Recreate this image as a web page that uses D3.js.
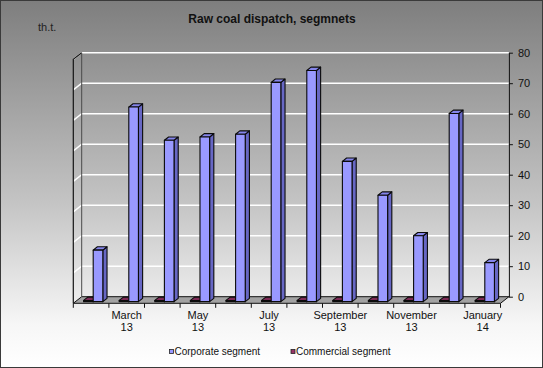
<!DOCTYPE html>
<html>
<head>
<meta charset="utf-8">
<script src="https://cdn.jsdelivr.net/npm/d3@7"></script>
<style>
  html, body { margin: 0; padding: 0; background: #fff; }
  svg { display: block; font-family: "Liberation Sans", Arial, sans-serif; }
</style>
</head>
<body>
<div id="chart"></div>
<script>
// chart data
const months = ["February", "March", "April", "May", "June", "July", "August",
                "September", "October", "November", "December", "January"];
const years = ["13", "13", "13", "13", "13", "13", "13", "13", "13", "13", "13", "14"];
const corporate = [16.9, 63.8, 52.9, 54.0, 54.9, 71.9, 75.8, 46.0, 34.9, 21.6, 61.7, 12.8];
const commercial = [0.4, 0.4, 0.4, 0.4, 0.4, 0.4, 0.4, 0.4, 0.4, 0.4, 0.4, 0.4];
const seriesNames = ["Corporate segment", "Commercial segment"];
const yTicks = [0, 10, 20, 30, 40, 50, 60, 70, 80];

const width = 543, height = 368;
// depth of the 3d box (front -> back)
const DX = 8.4, DY = 6.6;
const barZ = [0.25, 0.75];

const colors = {
    "Corporate segment": {front: "#9999ff", side: "#6767c4", top: "#8585ea"},
    "Commercial segment": {front: "#993366", side: "#6a2246", top: "#7d2a55"}
};

const svg = d3.select("#chart").append("svg")
    .attr("width", width)
    .attr("height", height);

// background gradient
const grad = svg.append("defs").append("linearGradient")
    .attr("id", "bg").attr("x1", 0).attr("y1", 0).attr("x2", 0).attr("y2", 1);
grad.append("stop").attr("offset", "0%").attr("stop-color", "#7e7e7e");
grad.append("stop").attr("offset", "55%").attr("stop-color", "#c4c4c4");
grad.append("stop").attr("offset", "88%").attr("stop-color", "#f6f6f6");
grad.append("stop").attr("offset", "100%").attr("stop-color", "#ffffff");

svg.append("rect")
    .attr("x", 0.5).attr("y", 0.5)
    .attr("width", width - 1).attr("height", height - 1)
    .attr("fill", "url(#bg)")
    .attr("stroke", "#3a3a3a");

// scales
const x = d3.scaleBand().domain(d3.range(months.length)).range([73.3, 500.5]);
const xs = d3.scaleBand().domain(["Commercial segment", "Corporate segment"])
    .range([0, x.bandwidth()]).paddingInner(0).paddingOuter(0.85);
const y = d3.scaleLinear().domain([0, 80]).range([296.7, 52.7]);

// project (px on front edge, value, depth z in 0..1) to screen
const P = (px, v, z) => [px + z * DX, y(v) + (1 - z) * DY];
const poly = pts => pts.map(p => p.join(",")).join(" ");

const x0 = x.range()[0], x1 = x.range()[1];
const plot = svg.append("g").attr("class", "plotG");

// floor
plot.append("polygon")
    .attr("points", poly([P(x0, 0, 0), P(x1, 0, 0), P(x1, 0, 1), P(x0, 0, 1)]))
    .attr("fill", "#a2a2a2")
    .attr("stroke", "#111")
    .attr("stroke-width", 1);

// gridlines on back wall and left wall
plot.selectAll(".grid")
    .data(yTicks.filter(d => d > 0))
    .join("polyline")
    .attr("class", "grid")
    .attr("points", d => poly([P(x0, d, 0), P(x0, d, 1), P(x1, d, 1)]))
    .attr("fill", "none")
    .attr("stroke", "#ffffff")
    .attr("stroke-width", 1.5);

// left wall edges
plot.append("polyline")
    .attr("points", poly([P(x0, 0, 0), P(x0, 80, 0), P(x0, 80, 1)]))
    .attr("fill", "none")
    .attr("stroke", "#151515")
    .attr("stroke-width", 1.2);
plot.append("line")
    .attr("x1", P(x0, 0, 1)[0]).attr("y1", P(x0, 0, 1)[1])
    .attr("x2", P(x0, 80, 1)[0]).attr("y2", P(x0, 80, 1)[1])
    .attr("stroke", "#4a4a4a")
    .attr("stroke-width", 1);

// value axis on the right (back plane)
const yAxisG = svg.append("g")
    .attr("class", "yAxisG")
    .attr("transform", "translate(" + P(x1, 0, 1)[0] + ",0)")
    .call(d3.axisRight(y).tickValues(yTicks).tickSize(4).tickSizeOuter(0).tickPadding(5));
yAxisG.select(".domain").attr("stroke", "#111");
yAxisG.selectAll(".tick line").attr("stroke", "#111");
yAxisG.selectAll(".tick text")
    .attr("font-family", "Liberation Sans, Arial, sans-serif")
    .attr("font-size", 11)
    .attr("fill", "#111");

// category ticks along the front edge of the floor
const xAxisG = svg.append("g").attr("class", "xAxisG");
xAxisG.selectAll(".xtick")
    .data(d3.range(months.length + 1))
    .join("line")
    .attr("class", "xtick")
    .attr("x1", i => i < months.length ? x(i) : x1)
    .attr("x2", i => i < months.length ? x(i) : x1)
    .attr("y1", P(x0, 0, 0)[1])
    .attr("y2", P(x0, 0, 0)[1] + 4.5)
    .attr("stroke", "#111");

const labels = xAxisG.selectAll(".xlabel")
    .data(d3.range(months.length).filter(i => i % 2 === 1))
    .join("text")
    .attr("class", "xlabel")
    .attr("text-anchor", "middle")
    .attr("font-size", 11)
    .attr("fill", "#111");
labels.append("tspan")
    .attr("x", i => x(i) + x.bandwidth() / 2)
    .attr("y", 319)
    .text(i => months[i]);
labels.append("tspan")
    .attr("x", i => x(i) + x.bandwidth() / 2)
    .attr("y", 331)
    .text(i => years[i]);

// bars (drawn left to right so the right bar covers the neighbour's side)
const barData = [];
months.forEach((m, i) => {
    barData.push({i: i, series: "Commercial segment", value: commercial[i]});
    barData.push({i: i, series: "Corporate segment", value: corporate[i]});
});

const barG = plot.selectAll(".barG")
    .data(barData)
    .join("g")
    .attr("class", "barG");

barG.each(function (d) {
    const g = d3.select(this);
    const bx0 = x(d.i) + xs(d.series);
    const bx1 = bx0 + xs.bandwidth();
    const [z0, z1] = barZ;
    const c = colors[d.series];
    g.append("polygon")
        .attr("points", poly([P(bx1, 0, z0), P(bx1, 0, z1), P(bx1, d.value, z1), P(bx1, d.value, z0)]))
        .attr("fill", c.side);
    g.append("polygon")
        .attr("points", poly([P(bx0, d.value, z0), P(bx1, d.value, z0), P(bx1, d.value, z1), P(bx0, d.value, z1)]))
        .attr("fill", c.top);
    g.append("polygon")
        .attr("points", poly([P(bx0, 0, z0), P(bx1, 0, z0), P(bx1, d.value, z0), P(bx0, d.value, z0)]))
        .attr("fill", c.front);
    g.selectAll("polygon")
        .attr("stroke", "#0a0a0a")
        .attr("stroke-width", 1.1)
        .attr("stroke-linejoin", "round");
});

// titles
svg.append("text")
    .attr("x", 272).attr("y", 23)
    .attr("text-anchor", "middle")
    .attr("font-size", 12)
    .attr("font-weight", "bold")
    .attr("fill", "#111")
    .text("Raw coal dispatch, segmnets");

svg.append("text")
    .attr("x", 38).attr("y", 31)
    .attr("font-size", 11)
    .attr("fill", "#222")
    .text("th.t.");

// legend
const legendX = [169, 290.5];
const legendG = svg.selectAll(".legendG")
    .data(seriesNames)
    .join("g")
    .attr("class", "legendG")
    .attr("transform", (d, i) => "translate(" + legendX[i] + ",349)");
legendG.append("rect")
    .attr("x", 0.5).attr("y", 0.5)
    .attr("width", 4).attr("height", 4)
    .attr("fill", d => colors[d].front)
    .attr("stroke", "#222")
    .attr("stroke-width", 0.8);
legendG.append("text")
    .attr("x", 5.5).attr("y", 6)
    .attr("font-size", 10)
    .attr("fill", "#111")
    .text(d => d);
</script>
</body>
</html>
